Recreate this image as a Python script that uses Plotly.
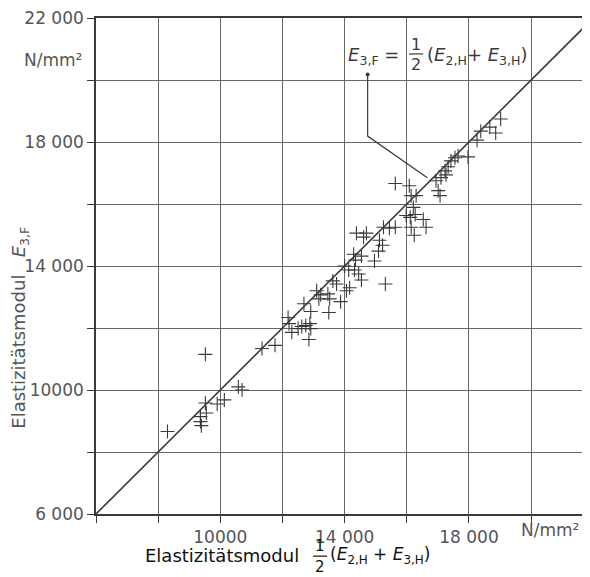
import plotly.graph_objects as go

# Data: x = 1/2(E2,H + E3,H), y = E3,F  (N/mm²)
x_vals = [8300, 9360, 9360, 9390, 9550, 9520, 9900, 10130, 10580, 10700,
          9520, 11340, 11760, 12180, 12210, 12300, 12500, 12620, 12750, 12880,
          12910, 12850, 12690, 12910, 13100, 13230, 13170, 13460, 13520, 13490,
          13620, 13740, 13870, 14060, 14160, 14000, 14130, 14320, 14450, 14540,
          14290, 14350, 14540, 14960, 15090, 15120, 15220, 15310, 14380, 14700,
          14610, 15250, 15440, 15630, 15630, 16080, 16140, 16300, 16210, 15980,
          16110, 16270, 16530, 16620, 16140, 16240, 16940, 17100, 17010, 17070,
          17230, 17260, 17330, 17420, 17550, 17650, 17970, 18260, 18380, 18670,
          18860, 19020]
y_vals = [8660, 9140, 8980, 8850, 9260, 9580, 9550, 9680, 10100, 10000,
          11150, 11340, 11440, 12340, 12140, 11860, 11980, 12050, 12080, 12140,
          11980, 11630, 12780, 12530, 13200, 13070, 12940, 13100, 12940, 12500,
          13520, 13420, 12850, 13200, 13300, 14000, 13870, 13870, 13740, 13550,
          14380, 14190, 14320, 14160, 14480, 14830, 14670, 13420, 15060, 15060,
          14930, 15250, 15220, 15250, 16660, 16590, 16270, 16270, 15890, 15630,
          15570, 15660, 15500, 15250, 15250, 14990, 16750, 16850, 16430, 16270,
          17070, 16940, 17200, 17390, 17490, 17550, 17520, 18060, 18350, 18480,
          18290, 18740]

grid_vals = [6000, 8000, 10000, 12000, 14000, 16000, 18000, 20000, 22000]
x_tick_text = ["", "", "10000", "", "14 000", "", "18 000", "", ""]
y_tick_text = ["6 000", "", "10000", "", "14 000", "", "18 000", "", "22 000"]
line_x = [6000, 22000]
line_y = [6000, 22000]

ink = "#3a3a3a"
gray = "#555555"
black = "#111111"
font = "DejaVu Sans"

fig = go.Figure()
fig.add_trace(go.Scatter(x=line_x, y=line_y, mode="lines",
                         line=dict(color=ink, width=1.6), hoverinfo="skip"))
fig.add_trace(go.Scatter(x=x_vals, y=y_vals, mode="markers",
                         marker=dict(symbol="cross-thin", size=10,
                                     line=dict(color=ink, width=1.1)),
                         hoverinfo="skip"))

# callout leader from formula to the line
fig.add_trace(go.Scatter(x=[14740, 14740, 16660], y=[20180, 18190, 16850],
                         mode="lines", line=dict(color=ink, width=1.2),
                         hoverinfo="skip"))
fig.add_trace(go.Scatter(x=[14740], y=[20180], mode="markers",
                         marker=dict(color=ink, size=4), hoverinfo="skip"))

axis_common = dict(showgrid=True, gridcolor="#666666", gridwidth=1,
                   zeroline=False, showline=True, linecolor=ink, linewidth=1.6,
                   ticks="outside", ticklen=7, tickcolor=ink, tickwidth=1,
                   tickfont=dict(family=font, size=17, color=gray),
                   ticklabeloverflow="allow",
                   tickmode="array", tickvals=grid_vals)

# page body has an 8px default margin, so the figure is 8px smaller
fig.update_layout(
    width=582, height=569,
    margin=dict(l=88, r=0, t=7, b=63),
    paper_bgcolor="white", plot_bgcolor="white",
    showlegend=False,
    xaxis=dict(range=[6000, 21830], ticktext=x_tick_text, mirror=True, **axis_common),
    yaxis=dict(range=[6000, 22000], ticktext=y_tick_text, mirror=True, **axis_common),
)

ann = []
# formula in plot
ann.append(dict(x=15810, y=20775, xref="x", yref="y", text="<i>E</i><sub>3,F</sub> =",
                xanchor="right", yanchor="middle", showarrow=False,
                font=dict(family=font, size=18, color=ink)))
ann.append(dict(x=16300, y=21160, xref="x", yref="y", text="1", xanchor="center",
                yanchor="middle", showarrow=False, font=dict(family=font, size=16, color=ink)))
ann.append(dict(x=16300, y=20500, xref="x", yref="y", text="2", xanchor="center",
                yanchor="middle", showarrow=False, font=dict(family=font, size=16, color=ink)))
ann.append(dict(x=16580, y=20775, xref="x", yref="y",
                text="(<i>E</i><sub>2,H</sub>+ <i>E</i><sub>3,H</sub>)",
                xanchor="left", yanchor="middle", showarrow=False,
                font=dict(family=font, size=18, color=ink)))
# y unit
ann.append(dict(x=-0.025, y=0.915, xref="paper", yref="paper", text="N/mm²",
                xanchor="right", yanchor="middle", showarrow=False,
                font=dict(family=font, size=17, color=gray)))
# x unit
ann.append(dict(x=20620, y=-0.032, xref="x", yref="paper", text="N/mm²",
                xanchor="center", yanchor="middle", showarrow=False,
                font=dict(family=font, size=17, color=gray)))
# y title
ann.append(dict(x=-0.155, y=0.375, xref="paper", yref="paper",
                text="Elastizitätsmodul&nbsp;&nbsp;&nbsp;<i>E</i><sub>3,F</sub>", textangle=-90,
                xanchor="center", yanchor="middle", showarrow=False,
                font=dict(family=font, size=18, color=gray)))
# x title
ann.append(dict(x=(302 - 96) / 494, y=-0.084, xref="paper", yref="paper",
                text="Elastizitätsmodul", xanchor="right", yanchor="middle",
                showarrow=False, font=dict(family=font, size=18, color=black)))
ann.append(dict(x=(321 - 96) / 494, y=-0.065, xref="paper", yref="paper", text="1",
                xanchor="center", yanchor="middle", showarrow=False,
                font=dict(family=font, size=15, color=black)))
ann.append(dict(x=(321 - 96) / 494, y=-0.106, xref="paper", yref="paper", text="2",
                xanchor="center", yanchor="middle", showarrow=False,
                font=dict(family=font, size=15, color=black)))
ann.append(dict(x=(329 - 96) / 494, y=-0.084, xref="paper", yref="paper",
                text="(<i>E</i><sub>2,H</sub> + <i>E</i><sub>3,H</sub>)",
                xanchor="left", yanchor="middle", showarrow=False,
                font=dict(family=font, size=17, color=black)))
fig.update_layout(annotations=ann)

shapes = [
    dict(type="line", xref="x", yref="y", x0=16070, x1=16530, y0=20840, y1=20840,
         line=dict(color=ink, width=1.2)),
    dict(type="line", xref="paper", yref="paper", x0=(314 - 96) / 494, x1=(328 - 96) / 494,
         y0=-0.085, y1=-0.085, line=dict(color=black, width=1.2)),
]
fig.update_layout(shapes=shapes)

fig.write_html("out.html")
